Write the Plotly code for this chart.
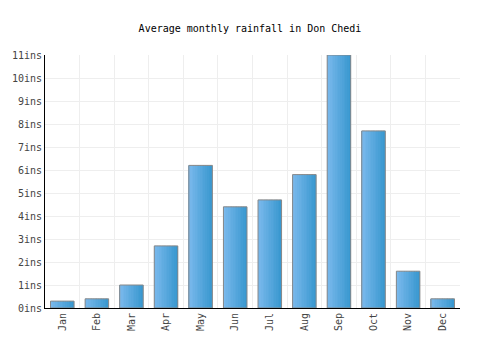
import plotly.graph_objects as go

months = ["Jan", "Feb", "Mar", "Apr", "May", "Jun", "Jul", "Aug", "Sep", "Oct", "Nov", "Dec"]
rainfall = [0.3, 0.4, 1.0, 2.7, 6.2, 4.4, 4.7, 5.8, 11.0, 7.7, 1.6, 0.4]
ytick_vals = list(range(0, 12))
ytick_text = [f"{v}ins" for v in ytick_vals]

font = "DejaVu Sans Mono"
bar_w = 0.68
n_slices = 14
c_left = (122, 185, 236)
c_right = (58, 152, 208)

fig = go.Figure()
slice_w = bar_w / n_slices
for i in range(n_slices):
    t = i / (n_slices - 1)
    c = tuple(round(a + (b - a) * t) for a, b in zip(c_left, c_right))
    fig.add_trace(
        go.Bar(
            x=months,
            y=rainfall,
            width=slice_w * 1.05,
            offset=-bar_w / 2 + i * slice_w,
            marker=dict(color=f"rgb{c}", line=dict(width=0)),
            hoverinfo="skip",
        )
    )
fig.add_trace(
    go.Bar(
        x=months,
        y=rainfall,
        width=bar_w,
        offset=-bar_w / 2,
        marker=dict(color="rgba(0,0,0,0)", line=dict(color="#888888", width=1)),
    )
)

fig.update_layout(
    width=500,
    height=350,
    margin=dict(l=40, r=40, t=55, b=42),
    paper_bgcolor="white",
    plot_bgcolor="white",
    showlegend=False,
    barmode="overlay",
    title=dict(
        text="Average monthly rainfall in Don Chedi",
        x=0.5,
        xanchor="center",
        y=1 - 28 / 350,
        yanchor="middle",
        font=dict(family=font, size=10, color="#000"),
    ),
    font=dict(family=font, size=10, color="#444"),
)

fig.update_xaxes(
    type="category",
    tickson="boundaries",
    showgrid=True,
    gridcolor="#eeeeee",
    gridwidth=1,
    showline=True,
    linecolor="#000",
    linewidth=1,
    tickangle=-90,
    ticks="",
    tickfont=dict(family=font, size=10, color="#444"),
    range=[-0.5, 11.5],
)

fig.update_yaxes(
    range=[0, 11],
    tickvals=ytick_vals,
    ticktext=ytick_text,
    showgrid=True,
    gridcolor="#eeeeee",
    gridwidth=1,
    showline=True,
    linecolor="#000",
    linewidth=1,
    ticks="",
    zeroline=False,
    tickfont=dict(family=font, size=10, color="#444"),
)

fig.write_html("out.html")
